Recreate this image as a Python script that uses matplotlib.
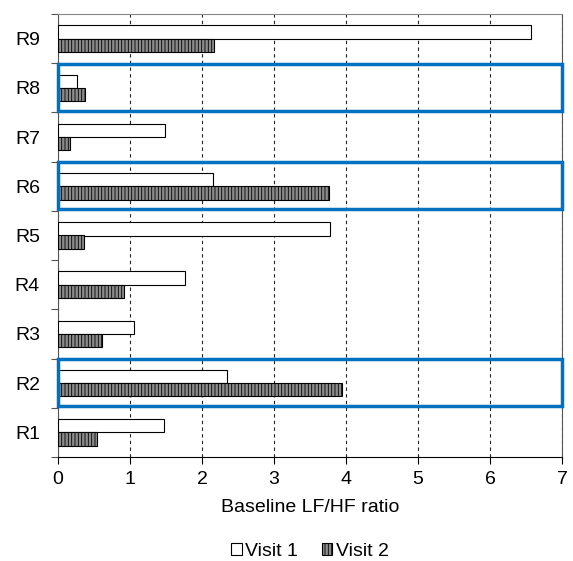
import matplotlib
matplotlib.use("Agg")
import matplotlib.pyplot as plt
from matplotlib.patches import Rectangle
import numpy as np

plt.rcParams['font.family'] = ['Liberation Sans', 'DejaVu Sans']
plt.rcParams['hatch.linewidth'] = 0.6

categories = ["R1", "R2", "R3", "R4", "R5", "R6", "R7", "R8", "R9"]
visit1 = [1.47, 2.35, 1.06, 1.76, 3.78, 2.15, 1.49, 0.26, 6.57]
visit2 = [0.54, 3.94, 0.61, 0.92, 0.36, 3.76, 0.17, 0.38, 2.17]
highlighted = ["R2", "R6", "R8"]
xticks = [0, 1, 2, 3, 4, 5, 6, 7]

fig = plt.figure(figsize=(5.73, 5.61), dpi=100)
ax = fig.add_axes([58/573, 1-457/561, (562-58)/573, (457-14)/561])

y = np.arange(len(categories))
h = 0.27
ax.barh(y + h/2, visit1, height=h, color='white', edgecolor='black', linewidth=0.8, label='Visit 1', zorder=3)
ax.barh(y - h/2, visit2, height=h, color='#8a8a8a', edgecolor='black', hatch='|||||', linewidth=0.8, label='Visit 2', zorder=3)

for i, c in enumerate(categories):
    if c in highlighted:
        ax.add_patch(Rectangle((0, i - 0.47), 7, 0.96, fill=False, edgecolor='#0070C0', linewidth=2.5, zorder=4, clip_on=False))

ax.set_xlim(0, 7)
ax.set_ylim(-0.5, len(categories) - 0.5)
ax.set_xticks(xticks)
ax.set_xticklabels([str(t) for t in xticks], fontsize=14)
ax.xaxis.grid(True, linestyle=(0, (3, 3)), color='#222222', linewidth=0.8, zorder=0)
ax.set_axisbelow(True)

ax.set_yticks(np.arange(-0.5, len(categories), 1.0))
ax.set_yticklabels([])
ax.set_yticks(y, minor=True)
ax.set_yticklabels(categories, minor=True, fontsize=14)
ax.tick_params(axis='y', which='minor', length=0, pad=13)
ax.tick_params(axis='y', which='major', length=5, direction='out', color='#555555')
ax.tick_params(axis='x', length=5, direction='out', pad=5)

ax.spines['top'].set_color('#888888')
ax.spines['right'].set_color('#555555')
ax.spines['left'].set_color('#555555')
ax.spines['bottom'].set_color('black')

ax.set_xlabel('Baseline LF/HF ratio', fontsize=14, labelpad=8)

ax.legend(loc='upper center', bbox_to_anchor=(0.5, -0.155), ncol=2, frameon=False,
          fontsize=14, handlelength=0.55, handleheight=0.55, handletextpad=0.2, columnspacing=1.2)

fig.savefig('out.png', dpi=100)
